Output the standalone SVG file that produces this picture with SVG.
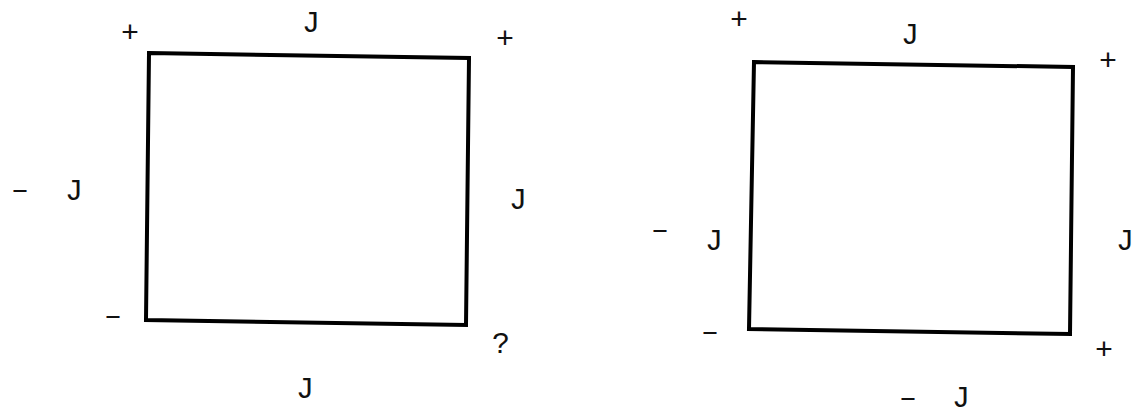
<svg xmlns="http://www.w3.org/2000/svg" width="1139" height="416" viewBox="0 0 1139 416">
<style>
.sq{fill:none;stroke:#000;stroke-width:4;stroke-linejoin:miter}
.t{font-family:"Liberation Mono","DejaVu Sans Mono",monospace;font-size:30px;fill:#111;text-anchor:middle}
</style>
<rect width="1139" height="416" fill="#fff"/>
<g id="square-left">
<polygon class="sq" points="149,53 469,58 466,325 146,320"/>
</g>
<g id="square-right">
<polygon class="sq" points="754,62 1073,67 1070,334 749,329"/>
</g>
<g id="connectors"></g>
<g id="labels-left">
<text class="t" x="130" y="42">+</text>
<text class="t" x="311" y="32">J</text>
<text class="t" x="505" y="48">+</text>
<text class="t" x="20" y="199">–</text>
<text class="t" x="74" y="200">J</text>
<text class="t" x="518" y="209">J</text>
<text class="t" x="113" y="325">–</text>
<text class="t" x="501" y="353">?</text>
<text class="t" x="305" y="398">J</text>
</g>
<g id="labels-right">
<text class="t" x="739" y="29">+</text>
<text class="t" x="910" y="44">J</text>
<text class="t" x="1108" y="70">+</text>
<text class="t" x="660" y="239">–</text>
<text class="t" x="714" y="250">J</text>
<text class="t" x="1125" y="250">J</text>
<text class="t" x="710" y="341">–</text>
<text class="t" x="1104" y="359">+</text>
<text class="t" x="908" y="407">–</text>
<text class="t" x="961" y="407">J</text>
</g>
</svg>
